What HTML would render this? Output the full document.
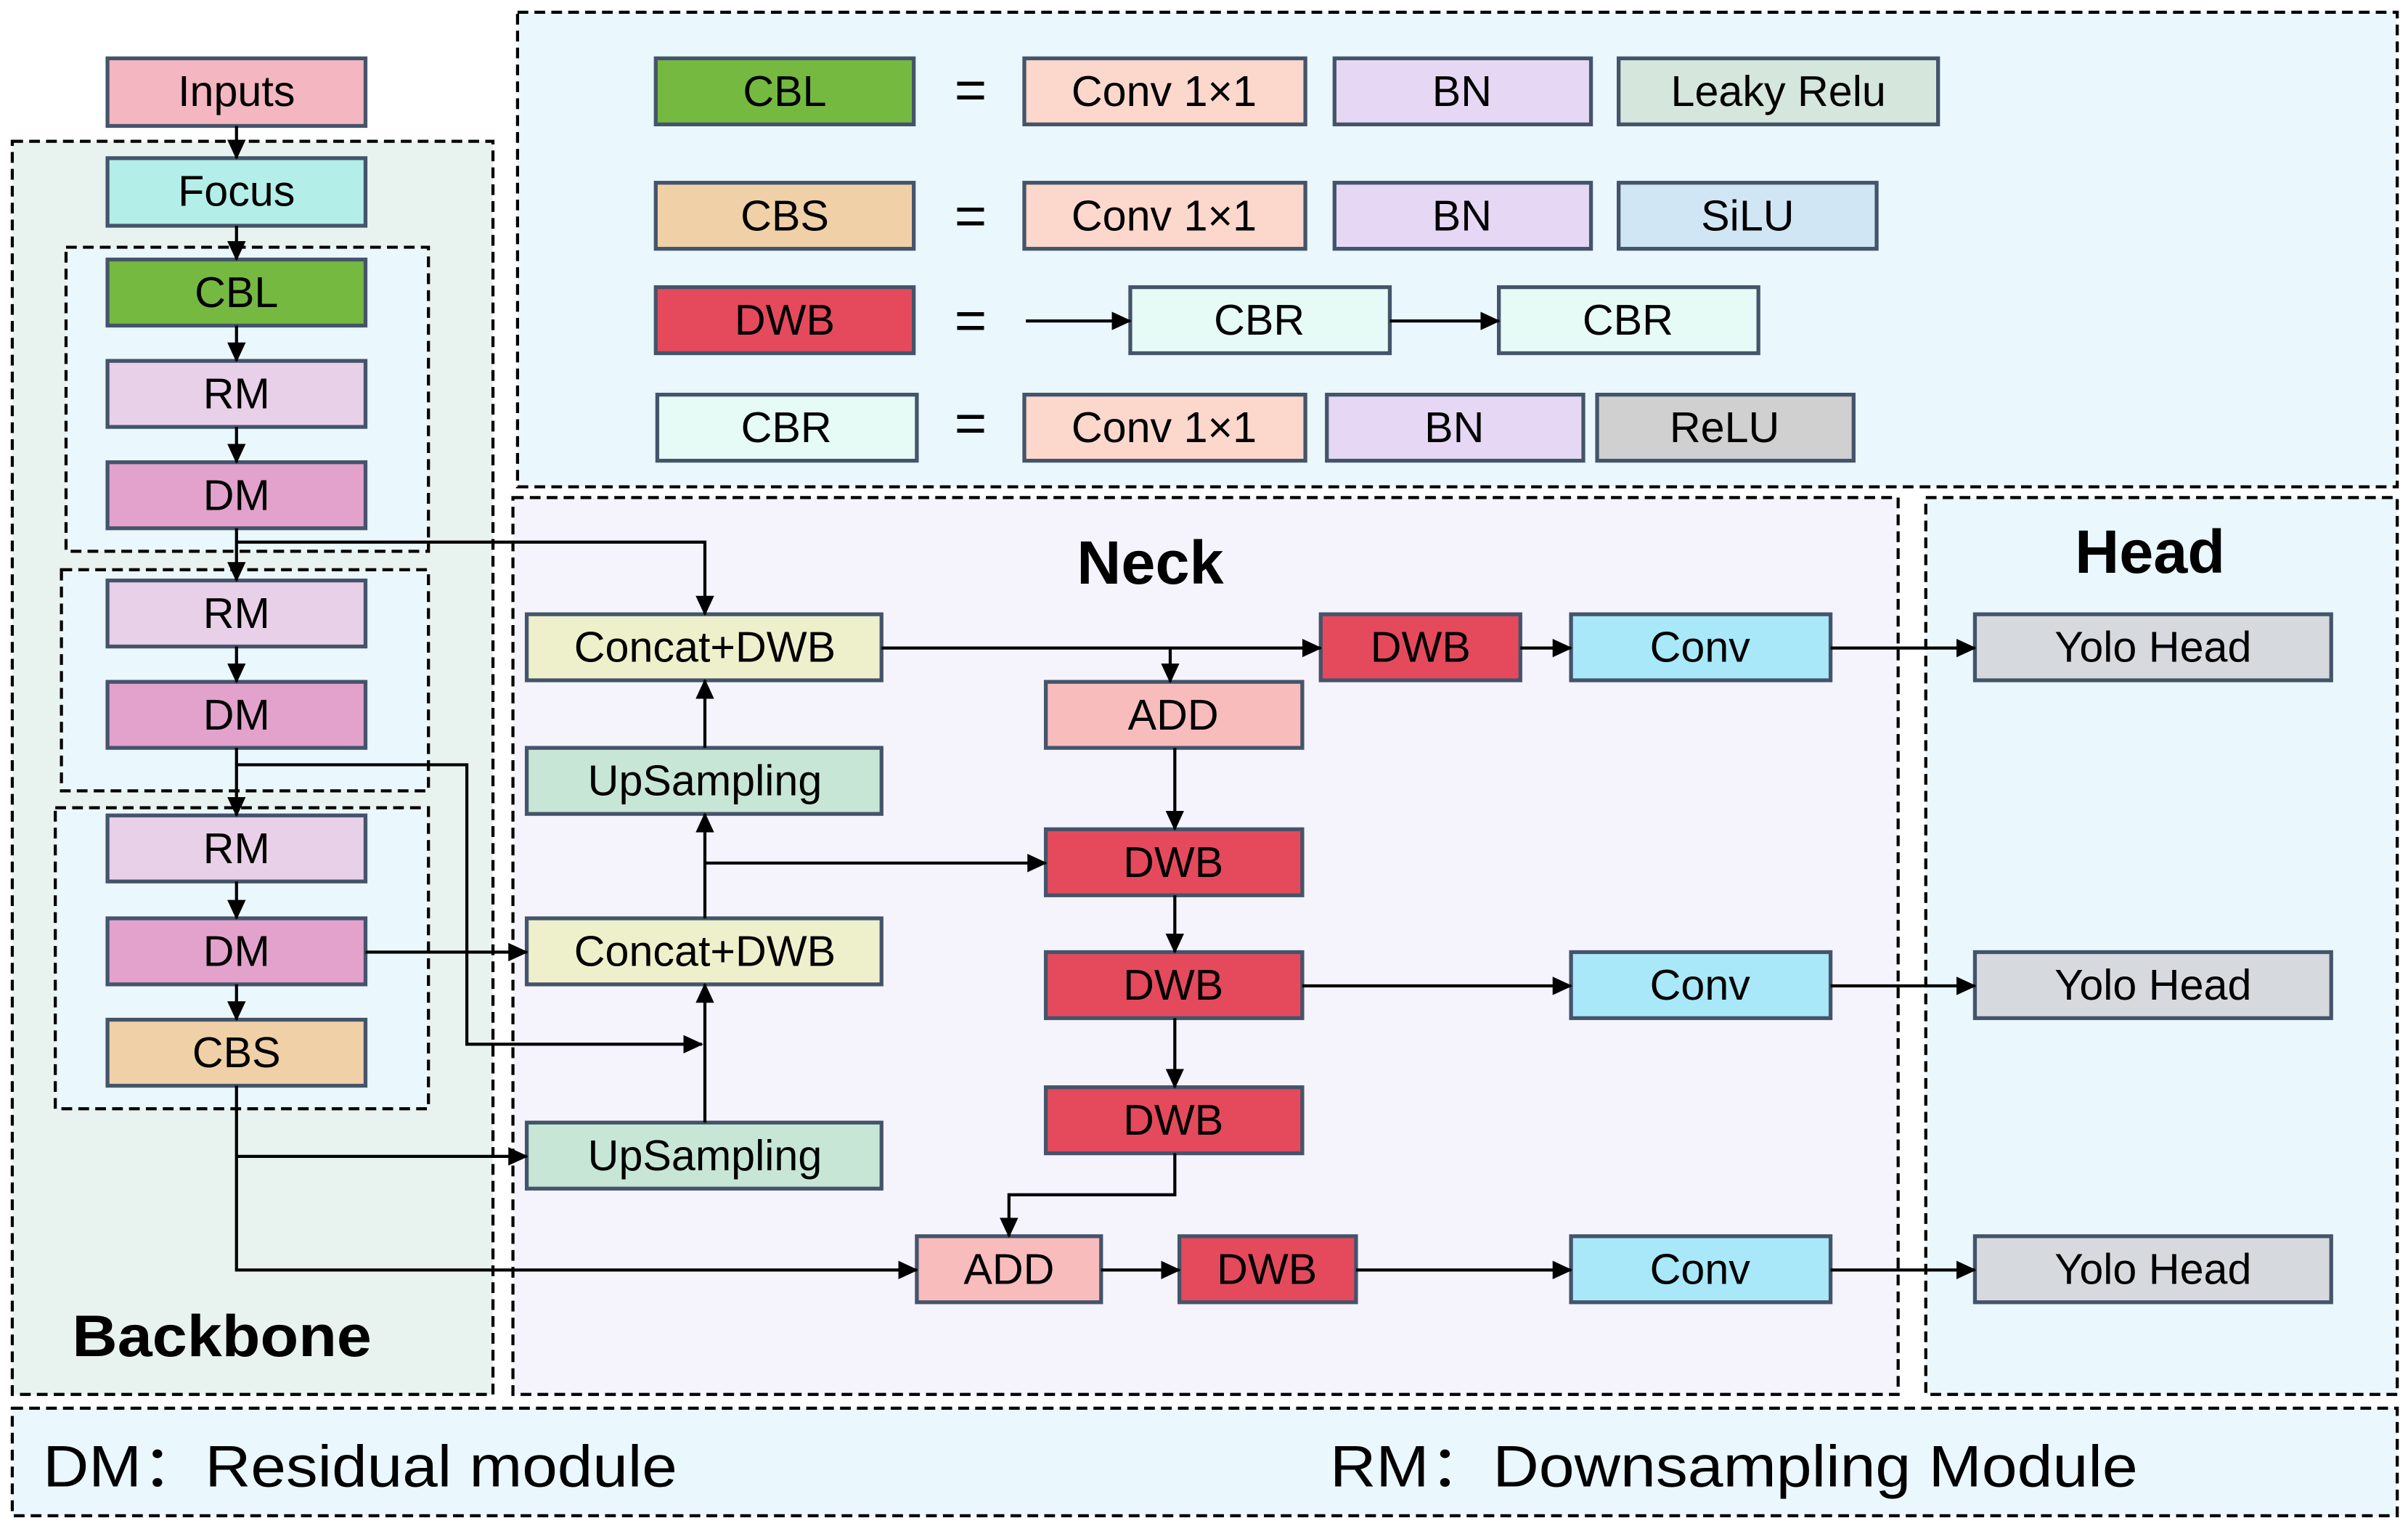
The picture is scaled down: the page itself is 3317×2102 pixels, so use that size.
<!DOCTYPE html>
<html><head><meta charset="utf-8"><style>
html,body{margin:0;padding:0;background:#fff}
svg{display:block}
text{font-family:"Liberation Sans","Noto Sans CJK SC",sans-serif;fill:#000}
</style></head><body>
<svg width="3317" height="2102" viewBox="0 0 1568 993.7" preserveAspectRatio="none" xmlns="http://www.w3.org/2000/svg">
<defs>
<marker id="a" markerWidth="13" markerHeight="12" refX="12" refY="6" orient="auto" markerUnits="userSpaceOnUse"><path d="M0,0 L13,6 L0,12 z" fill="#000"/></marker>
</defs>
<rect width="1568" height="994" fill="#fff"/>
<g stroke="#000" stroke-width="2" stroke-dasharray="7,4">
<rect x="8" y="92" width="313" height="816" fill="#e8f3ef"/>
<rect x="43" y="161" width="236" height="198" fill="#eaf7fd"/>
<rect x="40" y="371" width="239" height="144" fill="#eaf7fd"/>
<rect x="36" y="526" width="243" height="196" fill="#eaf7fd"/>
<rect x="337" y="8" width="1224" height="309" fill="#eaf7fd"/>
<rect x="334" y="324" width="902" height="584" fill="#f5f3fc"/>
<rect x="1254" y="324" width="307" height="584" fill="#eaf7fd"/>
<rect x="8" y="917" width="1553" height="70" fill="#eaf7fd"/>
</g>
<g stroke="#44546a" stroke-width="2.5">
<rect x="70" y="38" width="168" height="44" fill="#f4b6c0"/>
<rect x="70" y="103" width="168" height="44" fill="#b3eee8"/>
<rect x="70" y="169" width="168" height="43" fill="#76b940"/>
<rect x="70" y="235" width="168" height="43" fill="#e8d0e8"/>
<rect x="70" y="301" width="168" height="43" fill="#e2a2cc"/>
<rect x="70" y="378" width="168" height="43" fill="#e8d0e8"/>
<rect x="70" y="444" width="168" height="43" fill="#e2a2cc"/>
<rect x="70" y="531" width="168" height="43" fill="#e8d0e8"/>
<rect x="70" y="598" width="168" height="43" fill="#e2a2cc"/>
<rect x="70" y="664" width="168" height="43" fill="#f0d0a6"/>

<rect x="427" y="38" width="168" height="43" fill="#76b940"/>
<rect x="667" y="38" width="183" height="43" fill="#fcd7cc"/>
<rect x="869" y="38" width="167" height="43" fill="#e6d8f4"/>
<rect x="1054" y="38" width="208" height="43" fill="#d5e6dc"/>
<rect x="427" y="119" width="168" height="43" fill="#f0d0a6"/>
<rect x="667" y="119" width="183" height="43" fill="#fcd7cc"/>
<rect x="869" y="119" width="167" height="43" fill="#e6d8f4"/>
<rect x="1054" y="119" width="168" height="43" fill="#d0e6f4"/>
<rect x="427" y="187" width="168" height="43" fill="#e44a5c"/>
<rect x="736" y="187" width="169" height="43" fill="#e6faf6"/>
<rect x="976" y="187" width="169" height="43" fill="#e6faf6"/>
<rect x="428" y="257" width="169" height="43" fill="#e6faf6"/>
<rect x="667" y="257" width="183" height="43" fill="#fcd7cc"/>
<rect x="864" y="257" width="167" height="43" fill="#e6d8f4"/>
<rect x="1040" y="257" width="167" height="43" fill="#d0d0d0"/>

<rect x="343" y="400" width="231" height="43" fill="#eef0cc"/>
<rect x="343" y="487" width="231" height="43" fill="#c8e6d6"/>
<rect x="343" y="598" width="231" height="43" fill="#eef0cc"/>
<rect x="343" y="731" width="231" height="43" fill="#c8e6d6"/>
<rect x="681" y="444" width="167" height="43" fill="#f8bcbc"/>
<rect x="681" y="540" width="167" height="43" fill="#e44a5c"/>
<rect x="681" y="620" width="167" height="43" fill="#e44a5c"/>
<rect x="681" y="708" width="167" height="43" fill="#e44a5c"/>
<rect x="860" y="400" width="130" height="43" fill="#e44a5c"/>
<rect x="1023" y="400" width="169" height="43" fill="#a8e8f8"/>
<rect x="1023" y="620" width="169" height="43" fill="#a8e8f8"/>
<rect x="1023" y="805" width="169" height="43" fill="#a8e8f8"/>
<rect x="597" y="805" width="120" height="43" fill="#f8bcbc"/>
<rect x="768" y="805" width="115" height="43" fill="#e44a5c"/>
<rect x="1286" y="400" width="232" height="43" fill="#d6dade"/>
<rect x="1286" y="620" width="232" height="43" fill="#d6dade"/>
<rect x="1286" y="805" width="232" height="43" fill="#d6dade"/>
</g>
<g fill="none" stroke="#000" stroke-width="2" marker-end="url(#a)">
<path d="M154,82 V103"/><path d="M154,147 V169"/><path d="M154,212 V235"/><path d="M154,278 V301"/>
<path d="M154,344 V378"/><path d="M154,421 V444"/><path d="M154,487 V531"/><path d="M154,574 V598"/><path d="M154,641 V664"/>
<path d="M154,353 H459 V400"/>
<path d="M154,498 H304 V680 H457"/>
<path d="M238,620 H343"/>
<path d="M154,707 V827 H597"/>
<path d="M154,753 H343"/>
<path d="M459,731 V641"/>
<path d="M459,598 V530"/>
<path d="M459,562 H681"/>
<path d="M459,487 V443"/>
<path d="M574,422 H860"/>
<path d="M762,422 V444"/>
<path d="M765,487 V540"/><path d="M765,583 V620"/><path d="M765,663 V708"/>
<path d="M765,751 V778 H657 V805"/>
<path d="M717,827 H768"/><path d="M883,827 H1023"/>
<path d="M848,642 H1023"/><path d="M990,422 H1023"/>
<path d="M1192,422 H1286"/><path d="M1192,642 H1286"/><path d="M1192,827 H1286"/>
<path d="M668,209 H736"/><path d="M905,209 H976"/>
</g>
<g font-size="28" text-anchor="middle">
<text x="154" y="69">Inputs</text>
<text x="154" y="134">Focus</text>
<text x="154" y="200">CBL</text>
<text x="154" y="266">RM</text>
<text x="154" y="332">DM</text>
<text x="154" y="409">RM</text>
<text x="154" y="475">DM</text>
<text x="154" y="562">RM</text>
<text x="154" y="629">DM</text>
<text x="154" y="695">CBS</text>
<text x="511" y="69">CBL</text><text x="632" y="71" font-size="36">=</text>
<text x="758" y="69">Conv 1×1</text><text x="952" y="69">BN</text><text x="1158" y="69">Leaky Relu</text>
<text x="511" y="150">CBS</text><text x="632" y="153" font-size="36">=</text>
<text x="758" y="150">Conv 1×1</text><text x="952" y="150">BN</text><text x="1138" y="150">SiLU</text>
<text x="511" y="218">DWB</text><text x="632" y="221" font-size="36">=</text>
<text x="820" y="218">CBR</text><text x="1060" y="218">CBR</text>
<text x="512" y="288">CBR</text><text x="632" y="288" font-size="36">=</text>
<text x="758" y="288">Conv 1×1</text><text x="947" y="288">BN</text><text x="1123" y="288">ReLU</text>
<text x="459" y="431">Concat+DWB</text>
<text x="459" y="518">UpSampling</text>
<text x="459" y="629">Concat+DWB</text>
<text x="459" y="762">UpSampling</text>
<text x="764" y="475">ADD</text>
<text x="764" y="571">DWB</text>
<text x="764" y="651">DWB</text>
<text x="764" y="739">DWB</text>
<text x="925" y="431">DWB</text>
<text x="1107" y="431">Conv</text>
<text x="1107" y="651">Conv</text>
<text x="1107" y="836">Conv</text>
<text x="657" y="836">ADD</text>
<text x="825" y="836">DWB</text>
<text x="1402" y="431">Yolo Head</text>
<text x="1402" y="651">Yolo Head</text>
<text x="1402" y="836">Yolo Head</text>
<text x="749" y="380" font-size="40" font-weight="bold">Neck</text>
<text x="1400" y="373" font-size="40" font-weight="bold">Head</text>
</g>
<text x="47" y="883" font-size="38" font-weight="bold" textLength="195" lengthAdjust="spacingAndGlyphs">Backbone</text>
<text x="28" y="968" font-size="38" textLength="413" lengthAdjust="spacingAndGlyphs">DM：Residual module</text>
<text x="866" y="968" font-size="38" textLength="526" lengthAdjust="spacingAndGlyphs">RM：Downsampling Module</text>
</svg>
</body></html>
